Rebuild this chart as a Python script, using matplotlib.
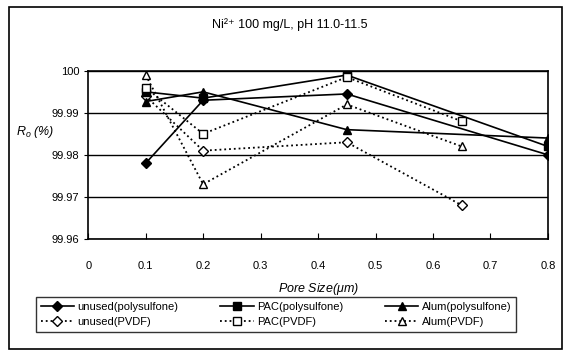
import matplotlib.pyplot as plt

plt.rcParams['font.family'] = ['Liberation Sans', 'DejaVu Sans']
plt.rcParams['mathtext.fontset'] = 'custom'
plt.rcParams['mathtext.it'] = 'Liberation Sans:italic'
plt.rcParams['mathtext.rm'] = 'Liberation Sans'

# pore sizes (um)
poly_x = [0.1, 0.2, 0.45, 0.8]
pvdf_x = [0.1, 0.2, 0.45, 0.65]

# Ro (%) values
unused_poly = [99.978, 99.993, 99.9945, 99.980]
pac_poly = [99.995, 99.9935, 99.999, 99.982]
alum_poly = [99.9927, 99.995, 99.986, 99.984]
unused_pvdf = [99.994, 99.981, 99.983, 99.968]
pac_pvdf = [99.996, 99.985, 99.9985, 99.988]
alum_pvdf = [99.999, 99.973, 99.992, 99.982]

y_ticks = [99.96, 99.97, 99.98, 99.99, 100]
y_labels = ['99.96', '99.97', '99.98', '99.99', '100']
x_ticks = [0, 0.1, 0.2, 0.3, 0.4, 0.5, 0.6, 0.7, 0.8]
x_labels = ['0', '0.1', '0.2', '0.3', '0.4', '0.5', '0.6', '0.7', '0.8']

fig = plt.figure(figsize=(5.69, 3.56), dpi=100)
ax = fig.add_axes([0.155, 0.329, 0.808, 0.472])

ax.plot(poly_x, unused_poly, '-', color='black', lw=1.2, marker='D', ms=5,
        mfc='black', mec='black', label='unused(polysulfone)')
ax.plot(pvdf_x, unused_pvdf, ':', color='black', lw=1.3, marker='D', ms=5,
        mfc='white', mec='black', label='unused(PVDF)')
ax.plot(poly_x, pac_poly, '-', color='black', lw=1.2, marker='s', ms=6,
        mfc='black', mec='black', label='PAC(polysulfone)')
ax.plot(pvdf_x, pac_pvdf, ':', color='black', lw=1.3, marker='s', ms=6,
        mfc='white', mec='black', label='PAC(PVDF)')
ax.plot(poly_x, alum_poly, '-', color='black', lw=1.2, marker='^', ms=6,
        mfc='black', mec='black', label='Alum(polysulfone)')
ax.plot(pvdf_x, alum_pvdf, ':', color='black', lw=1.3, marker='^', ms=6,
        mfc='white', mec='black', label='Alum(PVDF)')

ax.set_xlim(0, 0.8)
ax.set_ylim(99.96, 100)
ax.set_xticks(x_ticks)
ax.set_xticklabels(x_labels, fontsize=8)
ax.set_yticks(y_ticks)
ax.set_yticklabels(y_labels, fontsize=8)
ax.tick_params(axis='x', direction='in', length=4, pad=16)
ax.tick_params(axis='y', direction='out', length=3)
ax.grid(axis='y', color='black', lw=1)
for s in ax.spines.values():
    s.set_linewidth(1.2)

ax.set_xlabel('Pore Size($\\mu$m)', fontsize=9, style='italic', labelpad=7)
fig.text(0.062, 0.63, '$R_o$ (%)', fontsize=9, style='italic', ha='center', va='center')
fig.text(0.51, 0.93, 'Ni²⁺ 100 mg/L, pH 11.0-11.5', fontsize=9, ha='center', va='center')

ax.legend(loc='lower left', bbox_to_anchor=(0.053, 0.051, 0.864, 0.106),
          bbox_transform=fig.transFigure, mode='expand', ncol=3, fontsize=8,
          frameon=True, fancybox=False, edgecolor='black', borderpad=0.45,
          handlelength=3, labelspacing=0.45, handletextpad=0.3)

fig.patches.append(plt.Rectangle((0.015, 0.02), 0.972, 0.96, transform=fig.transFigure,
                                 fill=False, edgecolor='black', lw=1.2))

fig.savefig('out.png', dpi=100)
